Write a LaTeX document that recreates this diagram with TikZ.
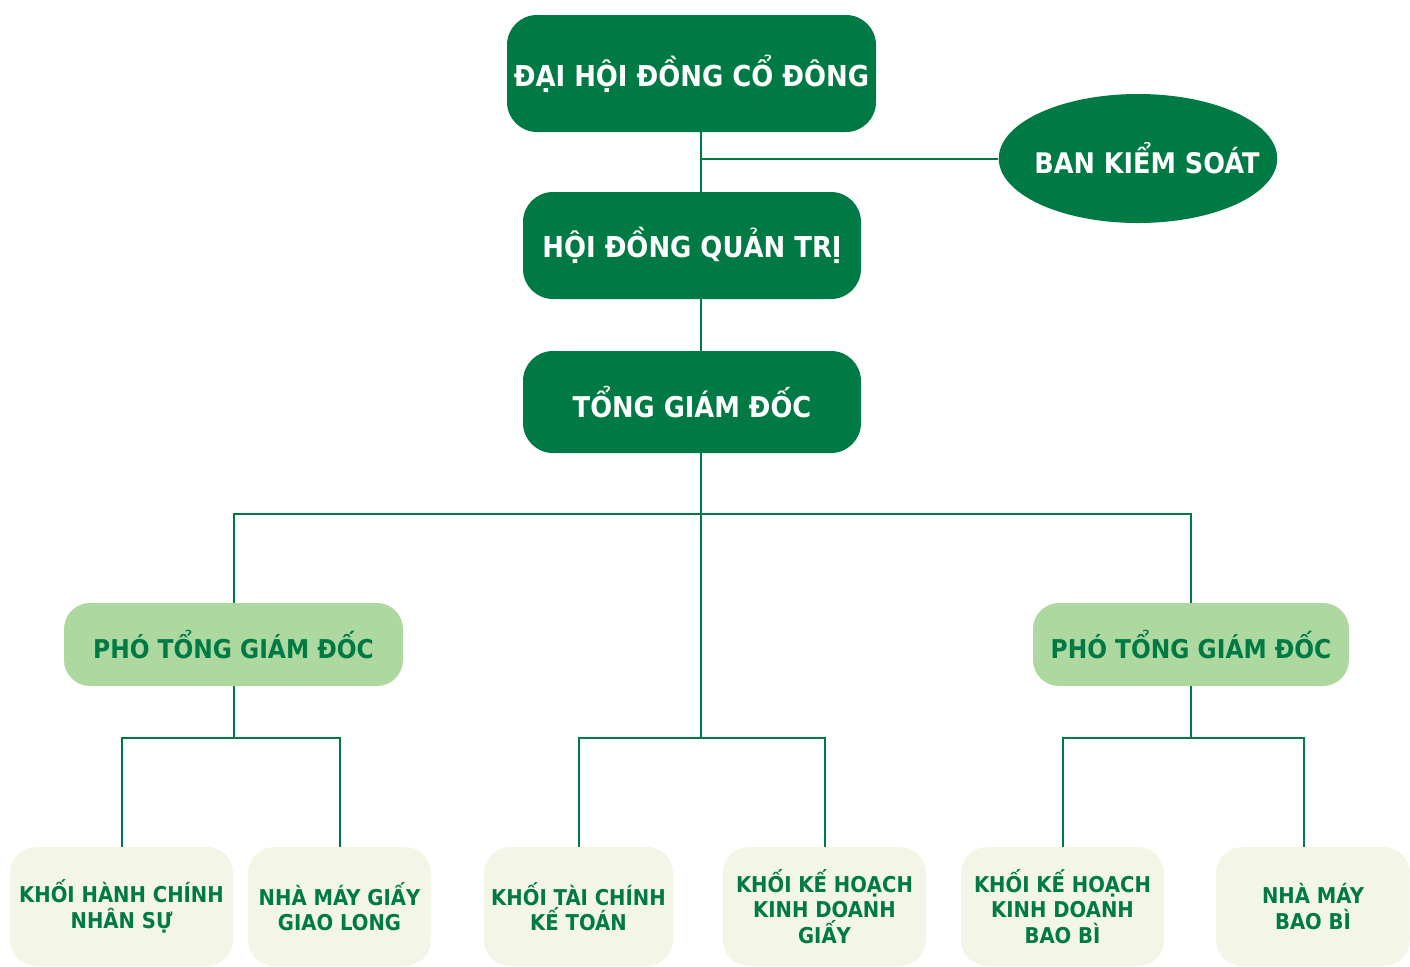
\documentclass[tikz,border=0pt]{standalone}
\usepackage{fontspec}
\setmainfont{DejaVu Sans}[FakeStretch=0.9]
\usetikzlibrary{shapes.geometric}
\definecolor{dkgreen}{RGB}{0,122,69}
\definecolor{ltgreen}{RGB}{173,216,160}
\definecolor{paleg}{RGB}{243,246,230}
\begin{document}
\begin{tikzpicture}[x=0.5pt,y=-0.5pt,
  link/.style={draw=dkgreen,line width=1pt},
  topbox/.style={fill=dkgreen,text=white,rounded corners=15pt,inner sep=0pt,
    font=\bfseries\fontsize{14.4}{17}\selectfont},
  vicebox/.style={fill=ltgreen,text=dkgreen,rounded corners=13pt,inner sep=0pt,
    minimum height=41.5pt,font=\bfseries\fontsize{12.95}{16}\selectfont},
  unitbox/.style={fill=paleg,text=dkgreen,rounded corners=13pt,inner sep=0pt,
    minimum height=59.5pt,align=center,font=\bfseries\fontsize{10.9}{12.7}\selectfont}]
\useasboundingbox (0,0) rectangle (1410,966);
\node[topbox,minimum width=184.5pt,minimum height=58.5pt] (dhcd) at (691.5,73.5) {ĐẠI HỘI ĐỒNG CỔ ĐÔNG};
\node[topbox,ellipse,inner xsep=-11.6pt,minimum height=64.5pt,font=\bfseries\fontsize{14.2}{16}\selectfont] (bks) at (1138,158.5) {\hspace{9pt}BAN KIỂM SOÁT};
\node[topbox,minimum width=169pt,minimum height=53.5pt] (hdqt) at (692,245.5) {HỘI ĐỒNG QUẢN TRỊ};
\node[topbox,minimum width=169pt,minimum height=51pt,font=\bfseries\fontsize{14.3}{16}\selectfont] (tgd) at (692,402) {TỔNG GIÁM ĐỐC};
\node[vicebox,minimum width=169.5pt] (ptgdL) at (233.5,644.5) {PHÓ TỔNG GIÁM ĐỐC};
\node[vicebox,minimum width=158pt] (ptgdR) at (1191,644.5) {PHÓ TỔNG GIÁM ĐỐC};
\node[unitbox,minimum width=111.5pt] (b1) at (121.5,906.5) {KHỐI HÀNH CHÍNH\\NHÂN SỰ};
\node[unitbox,minimum width=91.5pt] (b2) at (339.5,906.5) {NHÀ MÁY GIẤY\\GIAO LONG};
\node[unitbox,minimum width=94.5pt] (b3) at (578.5,906.5) {KHỐI TÀI CHÍNH\\KẾ TOÁN};
\node[unitbox,minimum width=101.5pt] (b4) at (824.5,906.5) {KHỐI KẾ HOẠCH\\KINH DOANH\\GIẤY};
\node[unitbox,minimum width=101.5pt] (b5) at (1062.5,906.5) {KHỐI KẾ HOẠCH\\KINH DOANH\\BAO BÌ};
\node[unitbox,minimum width=97pt] (b6) at (1313,906.5) {NHÀ MÁY\\BAO BÌ};
\coordinate (spine) at (701,0);
\coordinate (split) at (701,514);
\coordinate (midsplit) at (701,738);
\coordinate (lowbus) at (0,738);
\draw[link] (dhcd.south -| spine) -- (hdqt.north -| spine);
\draw[link] (bks.west) -- (bks.west -| spine);
\draw[link] (hdqt.south -| spine) -- (tgd.north -| spine);
\draw[link] (ptgdL.north) |- (split) -| (ptgdR.north);
\draw[link] (tgd.south -| spine) -- (midsplit);
\draw[link] (b3.north) |- (midsplit) -| (b4.north);
\draw[link] (ptgdL.south) -- (ptgdL.south |- lowbus);
\draw[link] (b1.north) |- (ptgdL.south |- lowbus) -| (b2.north);
\draw[link] (ptgdR.south) -- (ptgdR.south |- lowbus);
\draw[link] (b5.north) |- (ptgdR.south |- lowbus) -| ([xshift=-4.5pt]b6.north);
\end{tikzpicture}
\end{document}
